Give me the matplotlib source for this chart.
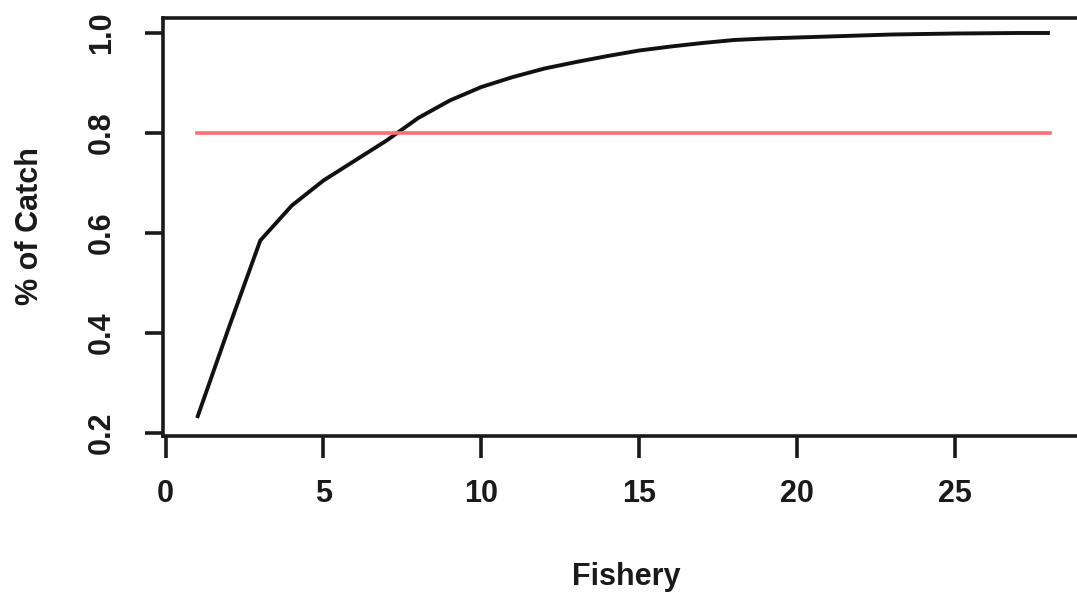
import matplotlib
matplotlib.use("Agg")
import matplotlib.pyplot as plt

plt.rcParams['font.family'] = ['Liberation Sans', 'DejaVu Sans']

fishery = list(range(1, 29))
cum_catch = [0.23, 0.41, 0.585, 0.655, 0.705, 0.745, 0.785, 0.83, 0.865, 0.892,
             0.912, 0.929, 0.942, 0.954, 0.965, 0.973, 0.980, 0.986, 0.989, 0.991,
             0.993, 0.995, 0.997, 0.998, 0.999, 0.9995, 1.0, 1.0]
threshold = 0.8
xticks = [0, 5, 10, 15, 20, 25]
yticks = [0.2, 0.4, 0.6, 0.8, 1.0]

W, H = 1077, 594
fig = plt.figure(figsize=(W / 100, H / 100), dpi=100)
left, right, top, bottom = 163, 1084, 17.5, 436
ax = fig.add_axes([left / W, 1 - bottom / H, (right - left) / W, (bottom - top) / H])

ax.plot(fishery, cum_catch, color='#111111', lw=2.8, solid_capstyle='butt')
ax.plot([fishery[0], fishery[-1]], [threshold, threshold], color='#f87272', lw=2.6)

ax.set_xlim(-0.08, 29.08)
ax.set_ylim(0.194, 1.031)
ax.set_xticks(xticks)
ax.set_xticklabels([str(t) for t in xticks], fontweight='bold')
ax.set_yticks(yticks)
ax.set_yticklabels([f"{t:.1f}" for t in yticks], rotation=90, va='center', fontweight='bold')

for s in ax.spines.values():
    s.set_linewidth(2.6)
    s.set_color('#1a1a1a')

ax.tick_params(axis='x', length=16, width=2.6, pad=15, labelsize=22, colors='#1a1a1a')
ax.tick_params(axis='y', length=13, width=2.6, pad=20, labelsize=22, colors='#1a1a1a')

fig.text(626 / W, 1 - 585 / H, "Fishery", ha='center', va='baseline', fontsize=22,
         fontweight='bold', color='#1a1a1a')
fig.text(30 / W, 1 - 226 / H, "% of Catch", ha='center', va='center', rotation=90,
         fontsize=22, fontweight='bold', color='#1a1a1a')

fig.savefig("out.png", dpi=100)
